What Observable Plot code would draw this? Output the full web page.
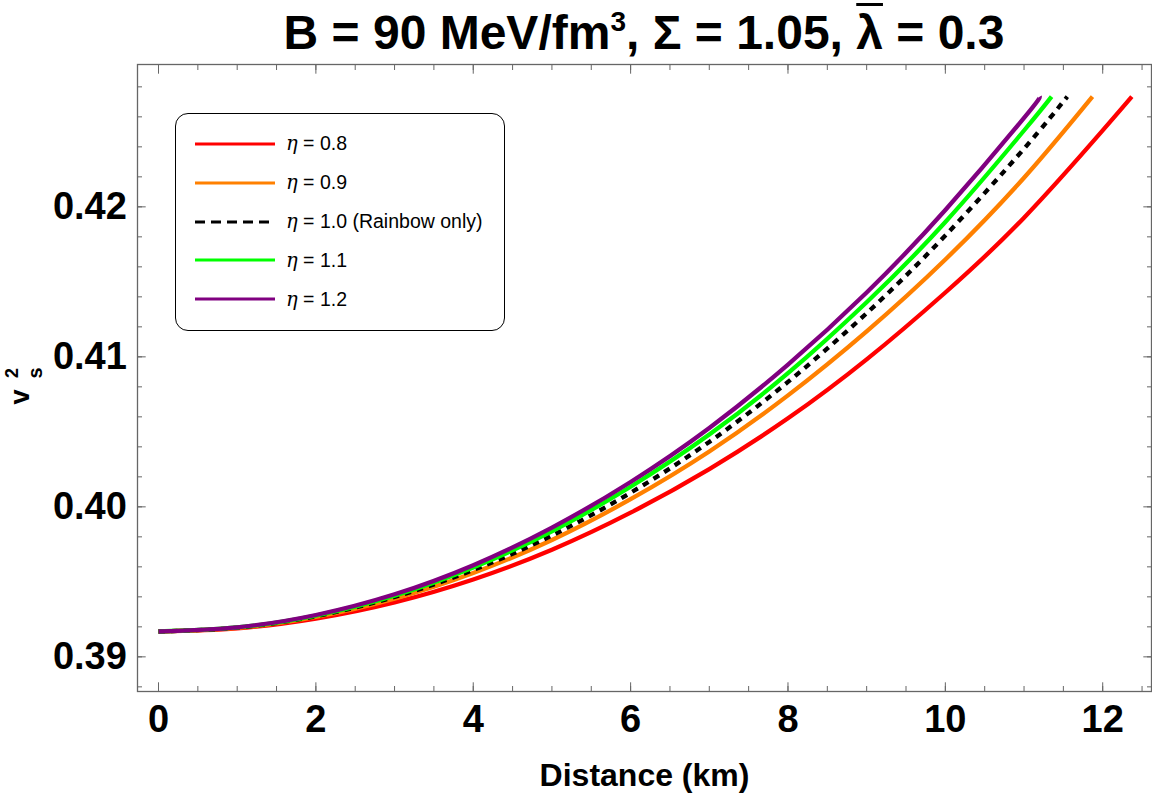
<!DOCTYPE html>
<html>
<head>
<meta charset="utf-8">
<script src="https://cdn.jsdelivr.net/npm/d3@7"></script>
<script src="https://cdn.jsdelivr.net/npm/@observablehq/plot@0.6"></script>
<style>
  body { margin: 0; background: #fff; }
  #wrap { position: relative; width: 1152px; height: 793px; font-family: "Liberation Sans", Arial, sans-serif; }
  #title { position: absolute; left: 137px; width: 1014px; top: 9px; text-align: center; font-weight: bold;
           font-size: 48px; line-height: 48px; color: #000; white-space: nowrap; }
  #title .sup { font-size: 28px; position: relative; top: -18px; }
  #title .bar { text-decoration: overline; text-decoration-thickness: 3px; }
  #legend { position: absolute; left: 175px; top: 113px; width: 330px; height: 218px; box-sizing: border-box;
            border: 1.6px solid #000; border-radius: 13px; background: #fff; padding-top: 10.6px; }
  .row { display: flex; align-items: center; height: 38.8px; }
  .row svg { margin-left: 19px; margin-right: 11px; }
  .row span { font-size: 19.5px; color: #000; }
  .row i { font-family: "DejaVu Serif", serif; font-style: italic; }
</style>
</head>
<body>
<div id="wrap">
  <div id="chart"></div>
  <div id="title">B = 90 MeV/fm<span class="sup">3</span>, Σ = 1.05, <span class="bar">λ</span> = 0.3</div>
  <div id="legend"></div>
</div>
<script>
// ---- data (distance in km, v_s^2) ----
const xEta08 = [0, 1, 2, 3, 4, 5, 6, 7, 8, 9, 10, 11, 12, 12.37];
const vEta08 = [0.39169, 0.39190, 0.39255, 0.39363, 0.39516, 0.39714, 0.39961, 0.40252, 0.40590, 0.40983, 0.41429, 0.41928, 0.42510, 0.42735];

const xEta09 = [0, 1, 2, 3, 4, 5, 6, 7, 8, 9, 10, 11, 11.87];
const vEta09 = [0.39169, 0.39193, 0.39266, 0.39388, 0.39559, 0.39779, 0.40051, 0.40369, 0.40743, 0.41170, 0.41649, 0.42194, 0.42735];

const xEta10 = [0, 1, 2, 3, 4, 5, 6, 7, 8, 9, 10, 11, 11.55];
const vEta10 = [0.39169, 0.39195, 0.39271, 0.39399, 0.39579, 0.39809, 0.40094, 0.40433, 0.40833, 0.41291, 0.41809, 0.42388, 0.42735];

const xEta11 = [0, 1, 2, 3, 4, 5, 6, 7, 8, 9, 10, 11, 11.35];
const vEta11 = [0.39169, 0.39196, 0.39275, 0.39408, 0.39596, 0.39837, 0.40134, 0.40482, 0.40891, 0.41364, 0.41899, 0.42509, 0.42735];

const xEta12 = [0, 1, 2, 3, 4, 5, 6, 7, 8, 9, 10, 11, 11.2];
const vEta12 = [0.39169, 0.39197, 0.39279, 0.39417, 0.39611, 0.39862, 0.40166, 0.40526, 0.40948, 0.41429, 0.41979, 0.42593, 0.42735];

const seriesNames = ["η = 0.8", "η = 0.9", "η = 1.0 (Rainbow only)", "η = 1.1", "η = 1.2"];
const seriesColors = ["#FF0000", "#FF8000", "#000000", "#00FF00", "#800080"];
const seriesDashed = [false, false, true, false, false];

const xMajorTicks = [0, 2, 4, 6, 8, 10, 12];
const xMinorTicks = [0, 0.5, 1, 1.5, 2, 2.5, 3, 3.5, 4, 4.5, 5, 5.5, 6, 6.5, 7, 7.5, 8, 8.5, 9, 9.5, 10, 10.5, 11, 11.5, 12, 12.5];
const yMajorTicks = [0.39, 0.40, 0.41, 0.42];
const yMinorTicks = [0.388, 0.390, 0.392, 0.394, 0.396, 0.398, 0.400, 0.402, 0.404, 0.406, 0.408, 0.410,
                     0.412, 0.414, 0.416, 0.418, 0.420, 0.422, 0.424, 0.426, 0.428];

// ---- build table ----
const xs = [xEta08, xEta09, xEta10, xEta11, xEta12];
const vs = [vEta08, vEta09, vEta10, vEta11, vEta12];
const rows = seriesNames.flatMap((name, k) => xs[k].map((x, i) => ({name, x, v: vs[k][i]})));

const frameColor = "#666666";
const lineMarks = seriesNames.map((name, k) =>
  Plot.line(rows.filter(d => d.name === name), {
    x: "x", y: "v", stroke: seriesColors[k], strokeWidth: 4.3,
    strokeDasharray: seriesDashed[k] ? "6.5,6" : null,
    strokeLinecap: "butt", curve: "natural"
  })
);

const noText = () => "";
const svg = Plot.plot({
  width: 1152, height: 793,
  marginTop: 64, marginBottom: 102, marginLeft: 137, marginRight: 1,
  style: {fontFamily: "'Liberation Sans', Arial, sans-serif", background: "#fff", color: "#000"},
  x: {domain: [-0.267, 12.62]},
  y: {domain: [0.38769, 0.42949]},
  marks: [
    Plot.frame({stroke: frameColor, strokeWidth: 1.3}),
    Plot.axisX(xMinorTicks, {anchor: "bottom", tickSize: -5, tickFormat: noText, stroke: frameColor, label: null}),
    Plot.axisX(xMinorTicks, {anchor: "top", tickSize: -5, tickFormat: noText, stroke: frameColor, label: null}),
    Plot.axisX(xMajorTicks, {anchor: "top", tickSize: -8.7, tickFormat: noText, stroke: frameColor, label: null}),
    Plot.axisX(xMajorTicks, {anchor: "bottom", tickSize: -8.7, tickPadding: 22.7, tickFormat: d3.format("d"),
      stroke: frameColor, fill: "#000", fontSize: 38, fontWeight: "bold", label: null}),
    Plot.axisY(yMinorTicks, {anchor: "left", tickSize: -5, tickFormat: noText, stroke: frameColor, label: null}),
    Plot.axisY(yMinorTicks, {anchor: "right", tickSize: -5, tickFormat: noText, stroke: frameColor, label: null}),
    Plot.axisY(yMajorTicks, {anchor: "right", tickSize: -8.7, tickFormat: noText, stroke: frameColor, label: null}),
    Plot.axisY(yMajorTicks, {anchor: "left", tickSize: -8.7, tickPadding: 19.3, tickFormat: d3.format(".2f"),
      stroke: frameColor, fill: "#000", fontSize: 38, fontWeight: "bold", label: null}),
    ...lineMarks,
    Plot.text(["Distance (km)"], {frameAnchor: "bottom", dy: 84, lineAnchor: "middle",
      fontSize: 32, fontWeight: "bold", fill: "#000"})
  ]
});
document.getElementById("chart").appendChild(svg);

// y-axis label v_s^2 (stacked sub/superscript), rotated
const g = d3.select(svg).append("g").attr("font-weight", "bold").attr("fill", "#000");
g.append("text").attr("transform", "translate(29,397) rotate(-90)").attr("font-size", 27).text("v");
g.append("text").attr("transform", "translate(42,373) rotate(-90)").attr("font-size", 20).text("s");
g.append("text").attr("transform", "translate(18,373) rotate(-90)").attr("font-size", 18).text("2");

// legend
const legend = d3.select("#legend");
seriesNames.forEach((name, k) => {
  const row = legend.append("div").attr("class", "row");
  const s = row.append("svg").attr("width", 80).attr("height", 6);
  s.append("line").attr("x1", 0).attr("x2", seriesDashed[k] ? 74 : 80).attr("y1", 3).attr("y2", 3)
    .attr("stroke", seriesColors[k]).attr("stroke-width", 3)
    .attr("stroke-dasharray", seriesDashed[k] ? "10,6" : null);
  const parts = name.split("η");
  const span = row.append("span");
  span.append("i").text("η");
  span.append("tspan").text(parts[1]);
});
</script>
</body>
</html>
